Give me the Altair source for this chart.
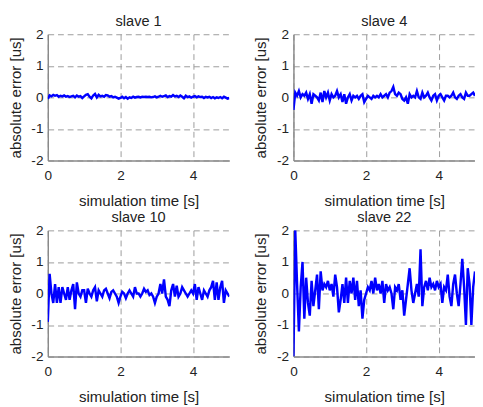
import altair as alt
import pandas as pd

# sampling grid (s)
N_SAMPLES = 101
DT = 0.05
time_s = [round(i * DT, 2) for i in range(N_SAMPLES)]

titles = ["slave 1", "slave 4", "slave 10", "slave 22"]
x_ticks = [0, 2, 4]
y_ticks = [-2, -1, 0, 1, 2]

slave1 = [-0.05, 0.06, 0.03, 0.08, 0.05, 0.07, 0.02, 0.05, 0.03, 0.06,
          0.02, 0.04, 0.01, 0.03, 0.05, 0.00, 0.06, 0.02, 0.04, -0.02,
          0.03, 0.08, 0.10, 0.02, -0.03, 0.06, 0.11, 0.00, 0.08, 0.03,
          0.05, 0.02, 0.07, 0.06, 0.02, 0.04, 0.00, 0.02, -0.01, -0.04,
          -0.02, 0.02, -0.03, 0.01, -0.04, 0.00, -0.02, 0.02, -0.01, 0.01,
          0.02, 0.00, 0.02, 0.01, 0.02, 0.01, 0.02, 0.00, 0.01, 0.03,
          0.00, 0.02, 0.05, 0.02, 0.04, 0.06, 0.01, 0.04, 0.02, 0.07,
          0.03, 0.05, 0.01, 0.06, 0.02, -0.03, 0.05, 0.01, 0.03, -0.01,
          0.02, 0.04, 0.00, 0.03, 0.01, 0.02, -0.02, 0.02, 0.00, 0.02,
          -0.02, 0.01, -0.03, 0.00, -0.02, 0.01, -0.03, 0.02, -0.01, -0.04,
          -0.02]

slave4 = [-0.40, 0.15, 0.05, 0.20, 0.00, 0.10, 0.05, 0.15, -0.05, 0.10,
          -0.20, 0.10, 0.05, 0.00, -0.10, 0.15, -0.15, 0.20, 0.00, 0.15,
          -0.10, 0.10, 0.00, 0.05, 0.20, 0.00, 0.10, -0.15, 0.10, -0.20,
          0.00, 0.10, -0.10, 0.05, 0.00, 0.05, -0.05, 0.05, 0.10, -0.15,
          -0.05, 0.05, 0.00, -0.05, 0.05, 0.00, 0.05, 0.00, 0.10, 0.00,
          0.05, 0.10, 0.00, 0.15, 0.20, 0.33, 0.10, 0.05, 0.15, 0.10,
          -0.05, -0.10, 0.00, -0.20, 0.10, 0.00, 0.05, 0.00, 0.20, 0.00,
          -0.05, 0.15, 0.00, 0.05, 0.15, 0.00, -0.10, 0.05, 0.10, -0.10,
          0.05, 0.10, 0.00, -0.10, 0.05, 0.05, 0.00, 0.05, 0.15, 0.00,
          -0.05, 0.05, 0.10, 0.00, -0.05, 0.15, 0.05, 0.05, 0.10, 0.15,
          0.05]

slave10 = [-0.90, 0.62, 0.00, -0.30, 0.30, -0.30, 0.20, -0.30, 0.20, 0.00,
           -0.20, 0.20, -0.20, 0.10, 0.30, -0.50, 0.35, 0.00, -0.10, 0.10,
           0.10, -0.30, 0.15, 0.00, -0.10, 0.10, 0.20, -0.25, 0.10, 0.00,
           -0.10, 0.10, 0.15, 0.00, -0.15, 0.05, 0.10, 0.00, -0.10, -0.30,
           -0.10, 0.05, 0.00, -0.15, 0.00, 0.10, 0.00, -0.10, 0.20, 0.00,
           0.00, -0.10, 0.00, 0.15, 0.05, 0.10, -0.05, 0.00, -0.10, -0.30,
           -0.10, 0.00, 0.30, 0.00, 0.45, -0.10, -0.20, -0.40, 0.10, 0.30,
           -0.10, 0.25, -0.10, 0.00, 0.20, 0.10, 0.00, -0.10, 0.00, 0.10,
           0.00, 0.30, -0.20, 0.20, 0.00, -0.20, 0.10, 0.00, -0.10, 0.10,
           0.20, 0.40, -0.20, 0.35, -0.20, 0.20, 0.40, -0.30, 0.10, 0.00,
           -0.10]

slave22 = [-2.00, 2.00, 0.30, -1.20, 0.20, 1.00, -0.80, 0.50, -0.30, -0.70,
           0.40, -0.40, 0.10, 0.60, -0.50, 0.70, 0.10, 0.30, 0.20, 0.40,
           0.10, 0.30, -0.10, 0.60, 0.20, -0.60, -0.20, 0.30, -0.30, 0.50,
           -0.30, 0.40, 0.00, 0.50, -0.20, 0.40, -0.40, 0.10, -0.80, -0.20,
           0.00, 0.20, 0.10, 0.40, 0.00, 0.50, 0.10, 0.30, 0.00, 0.40,
           -0.30, 0.30, 0.10, 0.20, 0.00, -0.50, 0.20, 0.10, 0.30, -0.20,
           0.10, -0.70, -0.20, 0.30, 0.80, 0.10, -0.30, 0.00, 0.30, -0.10,
           1.40, -0.40, 0.20, 0.40, 0.10, 0.50, 0.20, 0.30, 0.10, 0.40,
           0.20, 0.30, -0.30, 0.20, 0.10, 0.60, -0.10, -0.40, 0.30, 0.60,
           0.00, -0.40, 0.30, 1.10, 0.20, -1.00, 0.80, 0.30, -1.00, 0.20,
           0.70]

FONT = "Liberation Sans"


def panel(name, values):
    df = pd.DataFrame({"t": time_s, "e": values})
    return (
        alt.Chart(df, title=alt.TitleParams(name))
        .mark_line(color="#0000ff", strokeWidth=2.5, clip=True)
        .encode(
            x=alt.X("t:Q", scale=alt.Scale(domain=[0, 5], nice=False),
                    axis=alt.Axis(values=x_ticks, title="simulation time [s]",
                                  labelPadding=9, titlePadding=11,
                                  labelExpr="'' + datum.value")),
            y=alt.Y("e:Q", scale=alt.Scale(domain=[-2, 2], nice=False),
                    axis=alt.Axis(values=y_ticks, title="absolute error [us]",
                                  labelPadding=5, titlePadding=8,
                                  labelExpr="'' + datum.value")),
        )
        .properties(width=187, height=130)
    )


top = alt.hconcat(panel(titles[0], slave1), panel(titles[1], slave4), spacing=25)
bottom = alt.hconcat(panel(titles[2], slave10), panel(titles[3], slave22), spacing=25)

chart = (
    alt.vconcat(top, bottom, spacing=1)
    .properties(padding={"left": 0, "top": 0, "right": 0, "bottom": 0},
                background="white")
    .configure_view(stroke=None)
    .configure_axis(
        domainColor="#8a8a8a", domainWidth=1.5, ticks=False,
        grid=True, gridColor="#9a9a9a", gridDash=[6, 4], gridWidth=1,
        labelFont=FONT, labelFontSize=14, labelColor="#222222",
        labelFlush=False, labelOverlap=False,
        titleFont=FONT, titleFontSize=15.5, titleFontWeight="normal",
        titleColor="#222222",
    )
    .configure_title(font=FONT, fontSize=15, fontWeight="normal",
                     color="#222222", offset=-1)
)

chart.save("out.html", embed_options={"renderer": "svg", "actions": False})
